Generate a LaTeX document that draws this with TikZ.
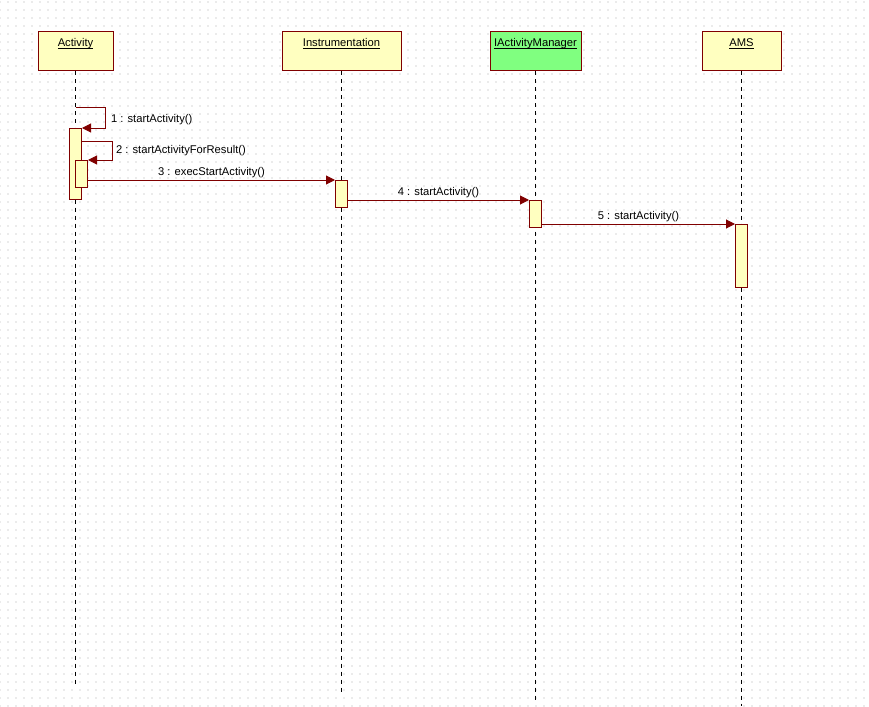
\documentclass[tikz,border=0pt]{standalone}
\usepackage{fontspec}
\setmainfont{Liberation Sans}
\usetikzlibrary{arrows.meta,positioning,patterns.meta}
\definecolor{umlred}{RGB}{128,0,0}
\definecolor{umlfill}{RGB}{255,255,192}
\definecolor{umlgreen}{RGB}{128,255,128}
\definecolor{griddot}{RGB}{170,170,170}
\tikzset{
  head/.style={rectangle, draw=umlred, line width=1pt, fill=umlfill,
               minimum height=39pt, inner sep=0pt},
  hlbl/.style={font=\fontsize{11.2}{13}\selectfont, anchor=north, inner sep=0pt, yshift=-7pt},
  life/.style={draw=black, dash pattern=on 4pt off 4pt, line width=0.8pt},
  act/.style={rectangle, draw=umlred, line width=1pt, fill=umlfill,
              minimum width=12pt, inner sep=0pt, anchor=north},
  msg/.style={draw=umlred, line width=1pt, -{Triangle[length=9pt,width=9pt]}},
  mlbl/.style={font=\fontsize{11.2}{13}\selectfont, inner sep=2pt},
}
% object name with a close underline
\newcommand{\hname}[1]{\setbox0\hbox{#1}\rlap{\rule[-1.8pt]{\wd0}{0.7pt}}\box0}

\begin{document}
\begin{tikzpicture}[x=1pt, y=-1pt]

  % ============ canvas with dot grid ============
  \useasboundingbox (0,0) rectangle (869,706);
  \fill[white] (0,0) rectangle (869,706);
  \fill[pattern={Dots[distance=8pt, radius=0.55pt]}, pattern color=griddot]
    (0,0) rectangle (869,706);

  % ============ lifeline heads ============
  \node[head, minimum width=75pt] (h1) at (75.5,51.5) {};
  \node[hlbl] (t1) at (h1.north) {\hname{Activity}};
  \node[head, minimum width=119pt] (h2) at (341.5,51.5) {};
  \node[hlbl] (t2) at (h2.north) {\hname{Instrumentation}};
  \node[head, fill=umlgreen, minimum width=91pt] (h3) at (535.5,51.5) {};
  \node[hlbl] (t3) at (h3.north) {\hname{IActivityManager}};
  \node[head, minimum width=79pt] (h4) at (741.5,51.5) {};
  \node[hlbl] (t4) at (h4.north) {\hname{AMS}};

  % ============ lifelines ============
  \coordinate (e1) at (h1 |- 0,687);
  \coordinate (e2) at (h2 |- 0,692);
  \coordinate (e3) at (h3 |- 0,703);
  \coordinate (e4) at (h4 |- 0,706);
  \draw[life] (h1.south) -- (e1);
  \draw[life] (h2.south) -- (e2);
  \draw[life] (h3.south) -- (e3);
  \draw[life] (h4.south) -- (e4);

  % ============ activations ============
  \node[act, minimum height=71pt] (a11) at (h1 |- 0,128) {};
  \node[act, minimum height=27pt] (a12) at (81.5,160) {};
  \node[act, minimum height=27pt] (a2) at (h2 |- 0,180) {};
  \node[act, minimum height=27pt] (a3) at (h3 |- 0,200) {};
  \node[act, minimum height=63pt] (a4) at (h4 |- 0,224) {};

  % ============ messages ============
  \coordinate (s1) at (h1 |- 0,108);
  \draw[msg] (s1) -- ++(30,0) |- (a11.north east)
    node[mlbl, pos=0.25, right, xshift=3pt, yshift=-1.5pt] {1 : startActivity()};
  \coordinate (s2) at (a11.east |- 0,141);
  \draw[msg] (s2) -- ++(30,0) |- (a12.north east)
    node[mlbl, pos=0.25, right, xshift=1.5pt] {2 : startActivityForResult()};
  \draw[msg] (a12.east |- a2.north) -- (a2.north west)
    node[mlbl, midway, above] {3 : execStartActivity()};
  \draw[msg] (a2.east |- a3.north) -- (a3.north west)
    node[mlbl, midway, above] {4 : startActivity()};
  \draw[msg] (a3.east |- a4.north) -- (a4.north west)
    node[mlbl, midway, above] {5 : startActivity()};

\end{tikzpicture}
\end{document}
